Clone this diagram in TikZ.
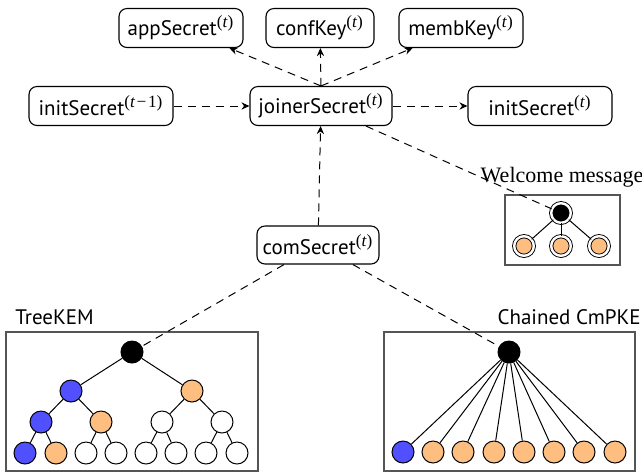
\documentclass[tikz,border=0pt]{standalone}
\usepackage{fontspec}
\setmainfont{PT Sans}
\newfontfamily\serifwelcome{Liberation Serif}
\usetikzlibrary{arrows.meta}
\definecolor{keyblue}{RGB}{80,80,255}
\definecolor{keyorange}{RGB}{253,190,128}
\definecolor{framegray}{RGB}{85,85,85}
% epoch superscript, e.g. (t) or (t-1)
\newcommand\epochsup[1]{\textsuperscript{\serifwelcome\fontsize{8.6}{9}\selectfont(\textit{#1})}}
\tikzset{
  secret/.style={draw, rounded corners=4pt, line width=0.55pt, minimum height=19.5pt, inner sep=2pt, font=\fontsize{10.5}{12}\selectfont},
  flow/.style={dashed, dash pattern=on 4pt off 3pt, line width=0.5pt},
  flowarrow/.style={flow, -{Stealth[length=4pt,width=3.6pt]}},
  knode/.style={circle, draw, line width=0.5pt, minimum size=11pt, inner sep=0pt},
  wnode/.style={circle, draw, double, double distance=1.2pt, line width=0.45pt, minimum size=9.8pt, inner sep=0pt},
  blk/.style={fill=black},
  blu/.style={fill=keyblue},
  org/.style={fill=keyorange},
  wht/.style={fill=white},
  frame/.style={draw=framegray, line width=0.6pt},
  edge/.style={line width=0.5pt},
  label/.style={inner sep=0pt, font=\fontsize{10.5}{12}\selectfont}
}
\begin{document}
\begin{tikzpicture}[x=0.5pt, y=-0.5pt]
\useasboundingbox (0,0) rectangle (642,473);

% key schedule
\node[secret, minimum width=62pt] (app) at (181,28) {appSecret\epochsup{t}};
\node[secret, minimum width=54pt] (conf) at (320,28) {confKey\epochsup{t}};
\node[secret, minimum width=62pt] (memb) at (461,28) {membKey\epochsup{t}};
\node[secret, minimum width=72pt] (initold) at (101,106) {initSecret\epochsup{t\hspace{0.4pt}−\hspace{0.4pt}\upshape 1}};
\node[secret, minimum width=71pt] (joiner) at (321,106) {joinerSecret\epochsup{t}};
\node[secret, minimum width=72pt] (initnew) at (540,106) {initSecret\epochsup{t}};
\node[secret, minimum width=61pt, minimum height=19pt] (com) at (318,245) {comSecret\epochsup{t}};

\draw[flowarrow] (joiner.north) -- (app);
\draw[flowarrow] (joiner.north) -- (conf);
\draw[flowarrow] (joiner.north) -- (memb);
\draw[flowarrow] (initold) -- (joiner);
\draw[flowarrow] (joiner) -- (initnew);
\draw[flowarrow] (com) -- (joiner);

% welcome message
\draw[frame] (505,195) rectangle (620,265);
\node[wnode, blk] (wroot) at (561,213) {};
\node[wnode, org] (w1) at (524,246) {};
\node[wnode, org] (w2) at (561,246) {};
\node[wnode, org] (w3) at (599,246) {};
\foreach \c in {w1,w2,w3} \draw[edge] (wroot) -- (\c);
\draw[flow] (joiner) -- (wroot);
\node[inner sep=0pt, font=\serifwelcome\fontsize{11}{12}\selectfont] (wlabel) at (562,177) {Welcome message};

% TreeKEM
\node[label, anchor=west] (tlabel) at (15,317) {TreeKEM};
\draw[frame] (6,332) rectangle (258,471);
\node[knode, blk] (t0) at (132,352) {};
\node[knode, blu] (t1) at (71,391) {};
\node[knode, org] (t2) at (192,391) {};
\node[knode, blu] (t3) at (41,422) {};
\node[knode, org] (t4) at (101,422) {};
\node[knode, wht] (t5) at (162,422) {};
\node[knode, wht] (t6) at (222,422) {};
\node[knode, blu] (l1) at (25,453) {};
\node[knode, org] (l2) at (56,453) {};
\node[knode, wht] (l3) at (86,453) {};
\node[knode, wht] (l4) at (116,453) {};
\node[knode, wht] (l5) at (146,453) {};
\node[knode, wht] (l6) at (176,453) {};
\node[knode, wht] (l7) at (206,453) {};
\node[knode, wht] (l8) at (237,453) {};
\draw[edge] (t0) -- (t1); \draw[edge] (t0) -- (t2);
\draw[edge] (t1) -- (t3); \draw[edge] (t1) -- (t4);
\draw[edge] (t2) -- (t5); \draw[edge] (t2) -- (t6);
\draw[edge] (t3) -- (l1); \draw[edge] (t3) -- (l2);
\draw[edge] (t4) -- (l3); \draw[edge] (t4) -- (l4);
\draw[edge] (t5) -- (l5); \draw[edge] (t5) -- (l6);
\draw[edge] (t6) -- (l7); \draw[edge] (t6) -- (l8);
\draw[flow] (com) -- (t0);

% Chained CmPKE
\node[label, anchor=east] (clabel) at (641,317) {Chained CmPKE};
\draw[frame] (384,332) rectangle (635,471);
\node[knode, blk] (c0) at (509,352) {};
\node[knode, blu] (c1) at (403,452) {};
\node[knode, org] (c2) at (433,452) {};
\node[knode, org] (c3) at (463,452) {};
\node[knode, org] (c4) at (494,452) {};
\node[knode, org] (c5) at (524,452) {};
\node[knode, org] (c6) at (554,452) {};
\node[knode, org] (c7) at (584,452) {};
\node[knode, org] (c8) at (615,452) {};
\foreach \c in {c1,c2,c3,c4,c5,c6,c7,c8} \draw[edge] (c0) -- (\c);
\draw[flow] (com) -- (c0);
\end{tikzpicture}
\end{document}
